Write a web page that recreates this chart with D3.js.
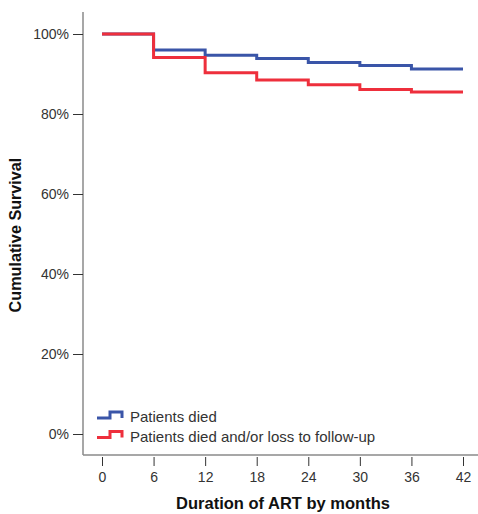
<!DOCTYPE html>
<html><head><meta charset="utf-8">
<script src="https://cdn.jsdelivr.net/npm/d3@7"></script>
<style>body{margin:0;background:#fff}svg{display:block}</style>
</head><body>
<svg id="c" width="478" height="514"></svg>
<script>
const months = [0, 6, 12, 18, 24, 30, 36, 42];
const xTicks = [0, 6, 12, 18, 24, 30, 36, 42];
const yTicks = [0, 20, 40, 60, 80, 100];
const diedSurvival = [100, 96.0, 94.7, 93.9, 92.9, 92.1, 91.25, 91.25];
const diedLtfuSurvival = [100, 94.1, 90.3, 88.5, 87.3, 86.1, 85.5, 85.5];
const seriesNames = ["Patients died", "Patients died and/or loss to follow-up"];
const seriesColors = ["#3a55a8", "#ee2f3c"];

const svg = d3.select("#c");
const x = d3.scaleLinear().domain([0, 42]).range([102, 463]);
const y = d3.scaleLinear().domain([0, 100]).range([434, 34]);
const axisX = 83, axisY = 455;

svg.append("line").attr("x1", axisX).attr("x2", axisX).attr("y1", 12).attr("y2", axisY)
  .attr("stroke", "#8a8a8a").attr("stroke-width", 1.5);
svg.append("line").attr("x1", axisX).attr("x2", 478).attr("y1", axisY).attr("y2", axisY)
  .attr("stroke", "#8a8a8a").attr("stroke-width", 1.5);

const font = "'Liberation Sans', Arial, sans-serif";
const gy = svg.append("g").attr("transform", `translate(${axisX},0)`)
  .call(d3.axisLeft(y).tickValues(yTicks).tickSize(10).tickFormat(d => d + "%"));
gy.select(".domain").remove();
gy.selectAll("line").attr("stroke", "#333");
gy.selectAll("text").attr("font-family", font).attr("font-size", 14).attr("fill", "#333").attr("dx", "-1");
const gx = svg.append("g").attr("transform", `translate(0,${axisY + 2})`)
  .call(d3.axisBottom(x).tickValues(xTicks).tickSize(9).tickFormat(d3.format("d")));
gx.select(".domain").remove();
gx.selectAll("line").attr("stroke", "#333");
gx.selectAll("text").attr("font-family", font).attr("font-size", 14).attr("fill", "#333").attr("dy", "0.95em");

svg.append("text").attr("x", 283).attr("y", 509).attr("text-anchor", "middle")
  .attr("font-family", font).attr("font-size", 16.5).attr("font-weight", "bold").attr("fill", "#111")
  .text("Duration of ART by months");
svg.append("text").attr("transform", "translate(21,235) rotate(-90)").attr("text-anchor", "middle")
  .attr("font-family", font).attr("font-size", 16.2).attr("font-weight", "bold").attr("fill", "#111")
  .text("Cumulative Survival");

const line = d3.line().x(d => x(d[0])).y(d => y(d[1])).curve(d3.curveStepAfter);
[diedSurvival, diedLtfuSurvival].forEach((vals, i) => {
  svg.append("path").datum(months.map((m, j) => [m, vals[j]]))
    .attr("d", line).attr("fill", "none").attr("stroke", seriesColors[i]).attr("stroke-width", 3);
});

seriesNames.forEach((name, i) => {
  const ly = 418 + i * 19.5;
  svg.append("path").attr("d", `M97,${ly} H110 V${ly - 6} H122 V${ly}`)
    .attr("fill", "none").attr("stroke", seriesColors[i]).attr("stroke-width", 3);
  svg.append("text").attr("x", 130).attr("y", ly - 1).attr("dy", "0.35em")
    .attr("font-family", font).attr("font-size", 15).attr("fill", "#333").text(name);
});
</script>
</body></html>
